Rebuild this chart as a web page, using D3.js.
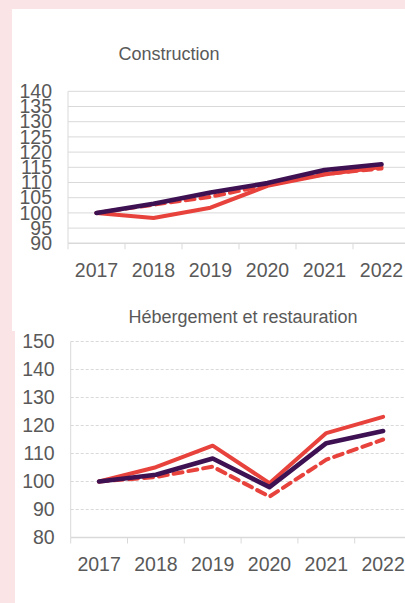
<!DOCTYPE html>
<html>
<head>
<meta charset="utf-8">
<script src="https://cdn.jsdelivr.net/npm/d3@7"></script>
<style>
  html, body { margin: 0; padding: 0; background: #fbe4e6; }
  svg { display: block; }
</style>
</head>
<body>
<svg id="chart" width="405" height="603"></svg>
<script>
// --- données (indices base 100 en 2017) ---
const years = ["2017", "2018", "2019", "2020", "2021", "2022"];

const constructionViolet = [100, 103, 106.7, 109.8, 114.1, 116];
const constructionRouge = [100, 98.3, 101.7, 108.9, 112.6, 115.1];
const constructionRougePointille = [100, 102.7, 105.3, 109.2, 112.8, 114.6];

const hebergementViolet = [100, 102.4, 108.2, 98, 113.7, 118];
const hebergementRouge = [100, 105.1, 112.8, 99.4, 117.3, 123.1];
const hebergementRougePointille = [100, 101.6, 105.3, 94.6, 107.8, 115];

const constructionTicks = [90, 95, 100, 105, 110, 115, 120, 125, 130, 135, 140];
const hebergementTicks = [80, 90, 100, 110, 120, 130, 140, 150];

const ROUGE = "#e8423c";
const VIOLET = "#3d1152";
const GRIS_TEXTE = "#595959";
const GRIS_GRILLE = "#d9d9d9";

const svg = d3.select("#chart");

// fonds blancs des deux panneaux
svg.append("rect").attr("x", 12).attr("y", 9).attr("width", 393).attr("height", 322).attr("fill", "#fff");
svg.append("rect").attr("x", 15).attr("y", 331).attr("width", 390).attr("height", 272).attr("fill", "#fff");

function drawPanel(opts) {
    const g = svg.append("g");

    const x = d3.scaleBand().domain(years).range(opts.xRange);
    const y = d3.scaleLinear().domain(opts.yDomain).range(opts.yRange);

    // grille horizontale
    g.append("g").selectAll("line")
        .data(opts.ticks.slice(1))
        .join("line")
        .attr("x1", opts.xRange[0]).attr("x2", opts.xRange[1])
        .attr("y1", d => y(d)).attr("y2", d => y(d))
        .attr("stroke", GRIS_GRILLE).attr("stroke-width", 1)
        .attr("stroke-dasharray", opts.dashedGrid ? "3,2" : null);

    // axe vertical (trait gris)
    g.append("line")
        .attr("x1", opts.xRange[0]).attr("x2", opts.xRange[0])
        .attr("y1", y(opts.yDomain[1])).attr("y2", y(opts.yDomain[0]))
        .attr("stroke", GRIS_GRILLE);

    // axe horizontal + graduations entre catégories
    const y0 = y(opts.yDomain[0]);
    g.append("line")
        .attr("x1", opts.xRange[0]).attr("x2", opts.xRange[1])
        .attr("y1", y0).attr("y2", y0)
        .attr("stroke", GRIS_GRILLE).attr("stroke-width", 1.5);
    g.append("g").selectAll("line")
        .data(years)
        .join("line")
        .attr("x1", d => x(d)).attr("x2", d => x(d))
        .attr("y1", y0).attr("y2", y0 + 6)
        .attr("stroke", GRIS_GRILLE);

    // étiquettes
    const yAxis = g.append("g")
        .attr("transform", `translate(${opts.xRange[0]},0)`)
        .call(d3.axisLeft(y).tickValues(opts.ticks).tickSize(0).tickPadding(16));
    const xAxis = g.append("g")
        .attr("transform", `translate(0,${y0})`)
        .call(d3.axisBottom(x).tickSize(0).tickPadding(20));
    [yAxis, xAxis].forEach(a => {
        a.select(".domain").remove();
        a.selectAll("text")
            .attr("fill", GRIS_TEXTE)
            .style("font-family", "'Liberation Sans', Arial, sans-serif")
            .style("font-size", "19.5px");
    });

    // titre
    g.append("text")
        .attr("x", opts.titleX).attr("y", opts.titleY)
        .attr("text-anchor", "middle")
        .attr("fill", GRIS_TEXTE)
        .style("font-family", "'Liberation Sans', Arial, sans-serif")
        .style("font-size", "18px")
        .text(opts.title);

    // courbes
    const line = d3.line()
        .x((d, i) => x(years[i]) + x.bandwidth() / 2)
        .y(d => y(d));

    const series = [
        { values: opts.rouge, color: ROUGE, width: 4, dash: null },
        { values: opts.pointille, color: ROUGE, width: 4, dash: "9,6" },
        { values: opts.violet, color: VIOLET, width: 4.6, dash: null }
    ];
    g.append("g").selectAll("path")
        .data(series)
        .join("path")
        .attr("d", d => line(d.values))
        .attr("fill", "none")
        .attr("stroke", d => d.color)
        .attr("stroke-width", d => d.width)
        .attr("stroke-dasharray", d => d.dash)
        .attr("stroke-linecap", "round")
        .attr("stroke-linejoin", "round");
}

drawPanel({
    title: "Construction", titleX: 169, titleY: 60,
    xRange: [68, 410], yDomain: [90, 140], yRange: [243.3, 91.3],
    ticks: constructionTicks, dashedGrid: false,
    violet: constructionViolet, rouge: constructionRouge, pointille: constructionRougePointille
});

drawPanel({
    title: "Hébergement et restauration", titleX: 243, titleY: 323,
    xRange: [70.7, 411.5], yDomain: [80, 150], yRange: [537.5, 341.5],
    ticks: hebergementTicks, dashedGrid: true,
    violet: hebergementViolet, rouge: hebergementRouge, pointille: hebergementRougePointille
});
</script>
</body>
</html>
